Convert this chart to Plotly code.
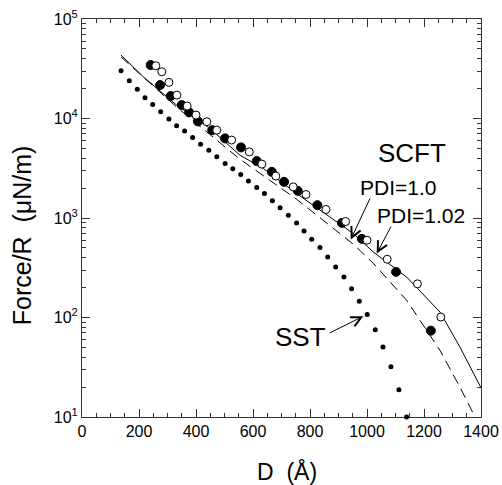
import plotly.graph_objects as go

# ---- data ----
filled_D = [241, 274, 311, 350, 376, 407, 457, 502, 558, 613, 666, 709, 757, 826, 912, 982, 1102, 1224]
filled_F = [34450, 21680, 16800, 13640, 11520, 9350, 7640, 6310, 5120, 3730, 2910, 2310, 1875, 1345, 893, 617, 287, 73.8]

open_D = [259, 280, 305, 333, 369, 400, 438, 473, 525, 587, 631, 680, 741, 786, 856, 925, 1000, 1071, 1177, 1259]
open_F = [33900, 29500, 23070, 17190, 13330, 10820, 9270, 7640, 6070, 4620, 3480, 2640, 2055, 1722, 1218, 922, 598, 385, 218, 101]

sst_D = [137, 166, 194, 221, 248, 276, 305, 332, 360, 388, 416, 445, 473, 502, 529, 557, 584, 613,
         640, 668, 695, 724, 753, 779, 806, 835, 862, 890, 919, 946, 973, 1001, 1029, 1056, 1084, 1112, 1139]
sst_F = [30200, 23950, 19630, 16150, 13860, 11670, 9860, 8450, 7470, 6450, 5520, 4810, 4120, 3530, 3130,
         2740, 2360, 2030, 1760, 1490, 1265, 1067, 893, 741, 612, 505, 406, 322, 255, 195, 146, 107, 75.5,
         50.5, 31.9, 18.8, 10.0]

pdi10_D = [137, 215, 332, 449, 554, 636, 753, 871, 952, 1022, 1139, 1256, 1326, 1399]
pdi10_F = [43400, 26280, 13640, 7950, 4280, 3150, 1760, 1012, 698, 456, 255, 113.6, 50.5, 19.9]

pdi102_D = [137, 332, 554, 753, 952, 1022, 1139, 1256, 1326, 1373, 1379]
pdi102_F = [41500, 13030, 3900, 1545, 545, 351, 149, 46.8, 20, 10.8, 10]

x_tickvals = [0, 200, 400, 600, 800, 1000, 1200, 1400]
y_tickvals = [10, 100, 1000, 10000, 100000]
y_ticktext = ["10<sup>1</sup>", "10<sup>2</sup>", "10<sup>3</sup>", "10<sup>4</sup>", "10<sup>5</sup>"]
y_minor = [m * 10 ** k for k in range(1, 5) for m in range(2, 10)]

FONT = "Liberation Sans, Arial, Helvetica, sans-serif"

fig = go.Figure()
fig.add_trace(go.Scatter(x=pdi10_D, y=pdi10_F, mode="lines", line=dict(color="black", width=1),
                         name="PDI=1.0"))
fig.add_trace(go.Scatter(x=pdi102_D, y=pdi102_F, mode="lines",
                         line=dict(color="black", width=1, dash="10px,6px"), name="PDI=1.02"))
fig.add_trace(go.Scatter(x=sst_D, y=sst_F, mode="markers", marker=dict(color="black", size=5),
                         name="SST", cliponaxis=False))
fig.add_trace(go.Scatter(x=filled_D, y=filled_F, mode="markers",
                         marker=dict(color="black", size=9, line=dict(color="black", width=1)),
                         name="filled", cliponaxis=False))
fig.add_trace(go.Scatter(x=open_D, y=open_F, mode="markers",
                         marker=dict(color="white", size=8, line=dict(color="black", width=1)),
                         name="open", cliponaxis=False))

axis_common = dict(showgrid=False, zeroline=False, showline=True, linecolor="#333", linewidth=1,
                   ticks="inside", mirror="allticks", tickcolor="#333", tickwidth=1, automargin=False,
                   layer="below traces",
                   tickfont=dict(family=FONT, size=16, color="black"))

fig.update_xaxes(range=[0, 1400], tickvals=x_tickvals, ticklen=8,
                 minor=dict(dtick=50, ticks="inside", ticklen=4, tickcolor="#333"), **axis_common)
fig.update_yaxes(type="log", range=[1, 5], tickvals=y_tickvals, ticktext=y_ticktext, ticklen=8,
                 minor=dict(tickvals=y_minor, ticks="inside", ticklen=4, tickcolor="#333"), **axis_common)

annots = [
    dict(x=1157, y=3.652, text="SCFT", size=26),
    dict(x=1110, y=3.310, text="PDI=1.0", size=21),
    dict(x=1189, y=3.028, text="PDI=1.02", size=21),
    dict(x=768, y=1.804, text="SST", size=26),
]
for a in annots:
    fig.add_annotation(x=a["x"], y=a["y"], xref="x", yref="y", text=a["text"], showarrow=False,
                       font=dict(family=FONT, size=a["size"], color="black"))

arrows = [
    ((943, 2.784), (1013, 3.212)),
    ((1034, 2.643), (1087, 2.928)),
    ((987, 2.012), (864, 1.838)),
]
for (hx, hy), (tx, ty) in arrows:
    fig.add_annotation(x=hx, y=hy, ax=tx, ay=ty, xref="x", yref="y", axref="x", ayref="y",
                       text="", showarrow=True, arrowhead=5, arrowsize=2, arrowwidth=1,
                       arrowcolor="black")

# axis titles
fig.add_annotation(x=0.514, y=-0.138, xref="paper", yref="paper", text="D  (Å)", showarrow=False,
                   font=dict(family=FONT, size=23, color="black"), xanchor="center", yanchor="middle")
fig.add_annotation(x=-0.150, y=0.457, xref="paper", yref="paper", text="Force/R  (μN/m)",
                   showarrow=False, textangle=-90,
                   font=dict(family=FONT, size=25, color="black"), xanchor="center", yanchor="middle")

fig.update_layout(width=502, height=485, margin=dict(l=82, r=21, t=19, b=68, autoexpand=False),
                  paper_bgcolor="white", plot_bgcolor="white", showlegend=False)

fig.write_html("out.html", config={"displayModeBar": False},
               post_script="document.body.style.margin='0';document.body.style.padding='0';"
                           "document.documentElement.style.overflow='hidden';")
